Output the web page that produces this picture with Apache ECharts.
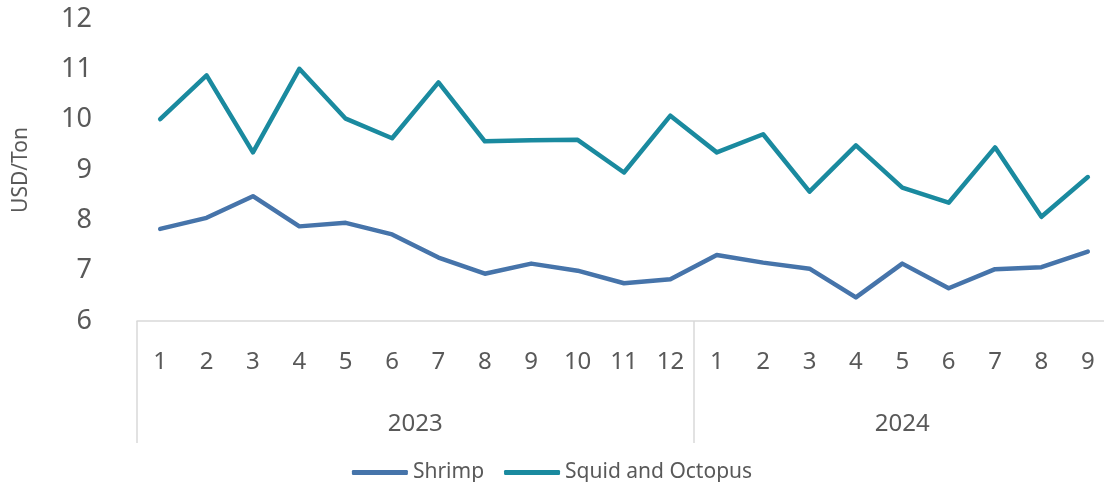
<!DOCTYPE html>
<html>
<head>
<meta charset="utf-8">
<script src="https://cdn.jsdelivr.net/npm/echarts@6/dist/echarts.min.js"></script>
<style>
html,body{margin:0;padding:0;background:#fff;}
#chart{width:1104px;height:482px;}
</style>
</head>
<body>
<div id="chart"></div>
<script>
const months = ['1','2','3','4','5','6','7','8','9','10','11','12','1','2','3','4','5','6','7','8','9'];
const years = ['2023','2024'];
const yearCenters = [6, 16.5];
const yearBounds = [0, 12, 21];
const shrimp = [7.83, 8.05, 8.48, 7.88, 7.95, 7.72, 7.26, 6.94, 7.14, 7.0, 6.75, 6.83, 7.31, 7.16, 7.04, 6.47, 7.14, 6.65, 7.03, 7.07, 7.38];
const squid = [10.01, 10.88, 9.35, 11.01, 10.02, 9.63, 10.74, 9.57, 9.59, 9.6, 8.95, 10.08, 9.35, 9.71, 8.57, 9.49, 8.65, 8.35, 9.45, 8.07, 8.86];
const yTicks = [6, 7, 8, 9, 10, 11, 12];

const FONT = 'Noto Sans';
const TXT = '#595959';
const chart = echarts.init(document.getElementById('chart'));
chart.setOption({
  animation: false,
  textStyle: {fontFamily: FONT},
  grid: {left: 137, top: 19, right: -7, bottom: 161, containLabel: false, outerBoundsMode: 'none'},
  legend: {
    data: ['Shrimp', 'Squid and Octopus'],
    left: 'center', top: 457,
    icon: 'roundRect', itemWidth: 56, itemHeight: 5, itemGap: 20,
    textStyle: {fontFamily: FONT, fontSize: 21, color: TXT}
  },
  xAxis: [
    {
      type: 'category', data: months, boundaryGap: true, position: 'bottom',
      axisLine: {show: true, lineStyle: {color: '#d9d9d9', width: 1.5}},
      axisTick: {show: false},
      axisLabel: {color: TXT, fontSize: 24, margin: 29, interval: 0, fontFamily: FONT},
      splitLine: {show: false}
    },
    {
      type: 'value', min: 0, max: 21, position: 'bottom',
      axisLine: {show: false},
      axisTick: {show: true, customValues: yearBounds, length: 122, inside: false, lineStyle: {color: '#d9d9d9', width: 1.5}},
      axisLabel: {
        show: true, customValues: yearCenters, margin: 91, color: TXT, fontSize: 24, fontFamily: FONT,
        formatter: function (v) { const i = yearCenters.indexOf(v); return i >= 0 ? years[i] : ''; }
      },
      splitLine: {show: false}
    }
  ],
  yAxis: {
    type: 'value', min: 6, max: 12, interval: 1,
    axisLine: {show: false}, axisTick: {show: false}, splitLine: {show: false},
    axisLabel: {color: TXT, fontSize: 27, margin: 45, fontFamily: FONT,
      formatter: function (v) { return yTicks.indexOf(v) >= 0 ? String(v) : ''; }},
    name: 'USD/Ton', nameLocation: 'middle', nameRotate: 90, nameGap: 105,
    nameTextStyle: {color: TXT, fontSize: 21, fontFamily: FONT}
  },
  series: [
    {name: 'Shrimp', type: 'line', data: shrimp, xAxisIndex: 0, symbol: 'none',
      lineStyle: {color: '#4674aa', width: 4.5, cap: 'round', join: 'round'}, itemStyle: {color: '#4674aa'}},
    {name: 'Squid and Octopus', type: 'line', data: squid, xAxisIndex: 0, symbol: 'none',
      lineStyle: {color: '#1a8a9f', width: 4.5, cap: 'round', join: 'round'}, itemStyle: {color: '#1a8a9f'}}
  ]
});
</script>
</body>
</html>
